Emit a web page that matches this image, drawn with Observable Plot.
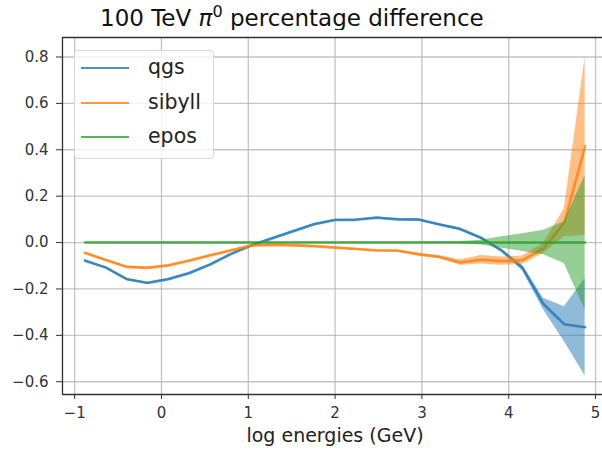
<!DOCTYPE html>
<html><head><meta charset="utf-8">
<script src="https://cdn.jsdelivr.net/npm/d3@7"></script>
<script src="https://cdn.jsdelivr.net/npm/@observablehq/plot@0.6"></script>
<style>
body{margin:0;background:#fff;font-family:"DejaVu Sans",sans-serif;}
#wrap{position:relative;width:602px;height:456px;overflow:hidden;background:#fff;}
#title{position:absolute;left:100px;top:7px;font-size:23px;line-height:1;color:#111;white-space:nowrap;}
#title sup{font-size:0.7em;line-height:0;position:relative;top:-0.05em;}
#chart{position:absolute;left:0;top:30px;}
#xlabel{position:absolute;left:62px;width:546px;top:426px;text-align:center;font-size:19px;line-height:1;color:#222;white-space:nowrap;}
#legend{position:absolute;left:74px;top:50px;width:140px;height:109px;border:1px solid #d8d8d8;border-radius:4px;background:rgba(255,255,255,0.8);box-sizing:border-box;}
.lg{position:absolute;left:6px;height:0;width:48px;border-top:2.6px solid;}
.lt{position:absolute;left:73px;font-size:20.5px;line-height:1;color:#222;}
</style></head>
<body>
<div id="wrap">
  <div id="title">100 TeV <i>π</i><sup>0</sup> percentage difference</div>
  <div id="chart"></div>
  <div id="xlabel">log energies (GeV)</div>
  <div id="legend"></div>
</div>
<script>
const energies = [-0.88,-0.64,-0.40,-0.16,0.08,0.32,0.56,0.80,1.04,1.28,1.52,1.76,2.00,2.24,2.48,2.72,2.96,3.20,3.44,3.68,3.92,4.16,4.40,4.64,4.88];
const seriesNames = ["qgs","sibyll","epos"];
const seriesColors = ["#1f77b4","#ff7f0e","#2ca02c"];
const qgsMean = [-0.078,-0.108,-0.158,-0.174,-0.158,-0.132,-0.095,-0.05,-0.012,0.019,0.049,0.079,0.097,0.098,0.107,0.1,0.099,0.078,0.058,0.02,-0.035,-0.11,-0.265,-0.352,-0.365];
const qgsErr  = [0.004,0.004,0.004,0.004,0.004,0.004,0.004,0.004,0.004,0.004,0.004,0.004,0.004,0.004,0.004,0.004,0.004,0.004,0.006,0.006,0.006,0.012,0.025,0.075,0.21];
const sibyllMean = [-0.045,-0.075,-0.105,-0.109,-0.099,-0.078,-0.056,-0.034,-0.013,-0.01,-0.012,-0.016,-0.022,-0.028,-0.034,-0.035,-0.051,-0.062,-0.086,-0.074,-0.08,-0.076,-0.025,0.085,0.415];
const sibyllErr  = [0.004,0.004,0.004,0.004,0.004,0.004,0.004,0.004,0.004,0.004,0.004,0.004,0.004,0.004,0.004,0.004,0.006,0.006,0.012,0.018,0.018,0.018,0.022,0.06,0.385];
const eposMean = [0,0,0,0,0,0,0,0,0,0,0,0,0,0,0,0,0,0,0,0,0,0,0,0,0];
const eposErr  = [0.002,0.002,0.002,0.002,0.002,0.002,0.002,0.002,0.002,0.002,0.002,0.002,0.002,0.002,0.002,0.002,0.002,0.003,0.005,0.01,0.025,0.038,0.053,0.09,0.29];
const xTicks = [-1,0,1,2,3,4,5];
const yTicks = [-0.6,-0.4,-0.2,0.0,0.2,0.4,0.6,0.8];

const means = [qgsMean, sibyllMean, eposMean];
const errs = [qgsErr, sibyllErr, eposErr];
const series = seriesNames.map((name, k) => energies.map((x, i) => ({x, m: means[k][i], e: errs[k][i], name})));

const xDomain = [-1.14, 5.08];
const yDomain = [-0.655, 0.884];

const marks = [
  Plot.gridX(xTicks, {stroke: "#b0b0b0", strokeOpacity: 0.75, strokeWidth: 1.3}),
  Plot.gridY(yTicks, {stroke: "#b0b0b0", strokeOpacity: 0.75, strokeWidth: 1.3})
];
series.forEach((data, k) => {
  marks.push(Plot.areaY(data, {x: "x", y1: d => d.m - d.e, y2: d => d.m + d.e, fill: seriesColors[k], fillOpacity: 0.5, curve: "linear"}));
  marks.push(Plot.lineY(data, {x: "x", y: "m", stroke: seriesColors[k], strokeOpacity: 0.8, strokeWidth: 2.6, curve: "linear"}));
});
marks.push(
  Plot.ruleX([xDomain[0]], {stroke: "#333", strokeWidth: 1.3}),
  Plot.ruleY(yDomain, {stroke: "#333", strokeWidth: 1.3}),
  Plot.axisX(xTicks, {tickSize: 5, tickPadding: 8, tickFormat: d3.format("d"), fontSize: 15, fill: "#333", stroke: "#333", label: null}),
  Plot.axisY(yTicks, {tickSize: 6, tickPadding: 8, tickFormat: d3.format(".1f"), fontSize: 15, fill: "#333", stroke: "#333", label: null})
);

const chart = Plot.plot({
  width: 602, height: 392,
  marginTop: 7, marginBottom: 28, marginLeft: 62, marginRight: 0,
  x: {domain: xDomain},
  y: {domain: yDomain},
  style: {fontFamily: "DejaVu Sans", background: "white"},
  marks
});
document.getElementById("chart").appendChild(chart);

const legend = document.getElementById("legend");
seriesNames.forEach((name, k) => {
  const ln = document.createElement("div");
  ln.className = "lg";
  ln.style.top = (16 + 34.5 * k) + "px";
  ln.style.borderColor = seriesColors[k];
  ln.style.opacity = 0.8;
  legend.appendChild(ln);
  const t = document.createElement("div");
  t.className = "lt";
  t.style.top = (6 + 34.5 * k) + "px";
  t.textContent = name;
  legend.appendChild(t);
});
</script>
</body></html>
